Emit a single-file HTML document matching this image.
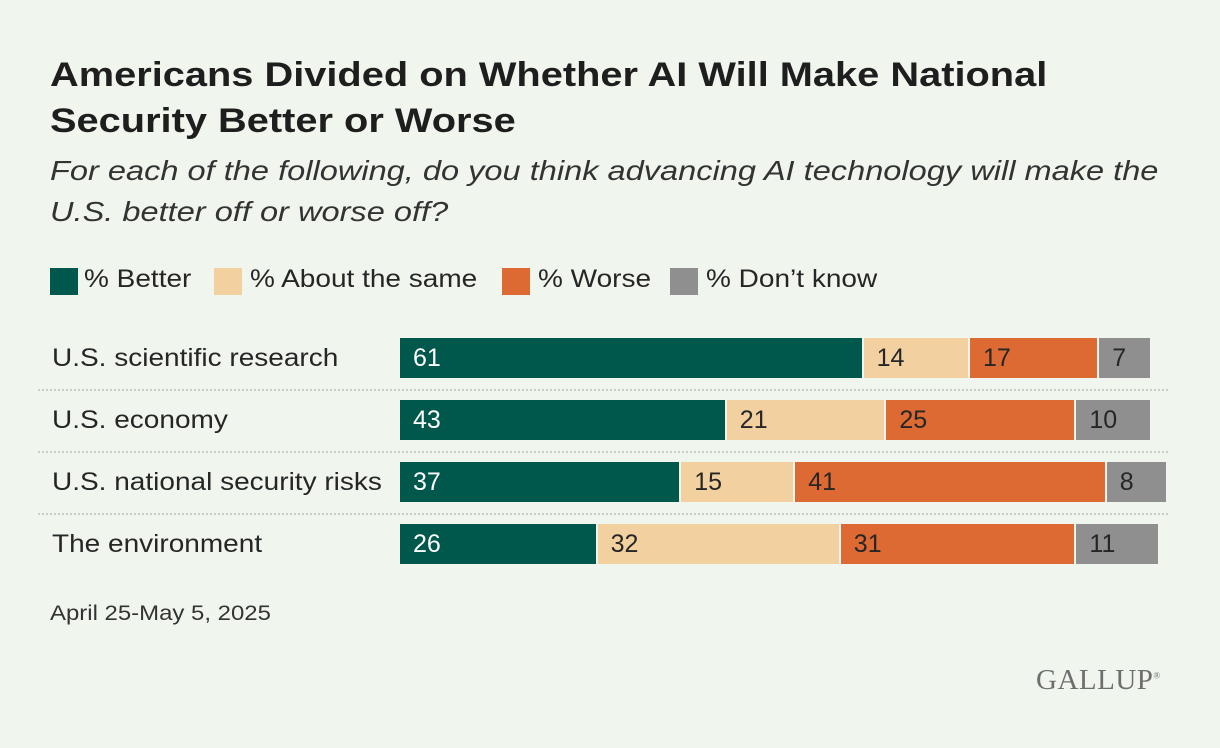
<!DOCTYPE html>
<html><head><meta charset="utf-8"><style>
body{margin:0;background:#f0f6ee;font-family:"Liberation Sans",sans-serif;color:#262626}
#c{position:relative;width:1220px;height:748px;overflow:hidden;background:#f0f6ee}
.t{position:absolute;left:50px;top:52px;font-size:34px;font-weight:bold;line-height:46px;color:#1e1e1e;white-space:nowrap;transform:scaleX(1.17);transform-origin:left top}
.s{position:absolute;left:50px;top:150px;font-size:28px;font-style:italic;line-height:41px;color:#333;white-space:nowrap;transform:scaleX(1.163);transform-origin:left top}
.lg{position:absolute;top:268px;width:28px;height:27px}
.lt{position:absolute;top:265px;font-size:25px;white-space:nowrap;transform:scaleX(1.12);transform-origin:left top}
.rl{position:absolute;left:52px;font-size:25px;line-height:40px;white-space:nowrap;transform:scaleX(1.12);transform-origin:left top}
.seg{position:absolute;height:40px;line-height:40px;font-size:25px;padding-left:13px;box-sizing:border-box;overflow:hidden;white-space:nowrap}
.sep{position:absolute;left:38px;width:1130px;border-top:2px dotted #c9cdc8}
</style></head><body>
<div id="c">
<div class="t">Americans Divided on Whether AI Will Make National<br>Security Better or Worse</div>
<div class="s">For each of the following, do you think advancing AI technology will make the<br>U.S. better off or worse off?</div>
<div class="lg" style="left:50px;background:#00584c"></div>
<div class="lt" style="left:84px">% Better</div>
<div class="lg" style="left:214px;background:#f2d09f"></div>
<div class="lt" style="left:250px">% About the same</div>
<div class="lg" style="left:502px;background:#dd6a33"></div>
<div class="lt" style="left:538px">% Worse</div>
<div class="lg" style="left:670px;background:#8f8f8f"></div>
<div class="lt" style="left:706px">% Don’t know</div>
<div id="bars"></div>
<div style="position:absolute;left:50px;top:602px;font-size:21px;color:#333;white-space:nowrap;transform:scaleX(1.14);transform-origin:left top">April 25-May 5, 2025</div>
<div style="position:absolute;left:1036px;top:664px;font-family:'Liberation Serif',serif;font-size:29px;color:#6e6e6e;letter-spacing:0.5px">GALLUP<sup style="font-size:9px">®</sup></div>
</div>
<script>
const categories=["U.S. scientific research","U.S. economy","U.S. national security risks","The environment"];
const better=[61,43,37,26];
const same=[14,21,15,32];
const worse=[17,25,41,31];
const dontKnow=[7,10,8,11];
const series=[["better",better,"#00584c","#fff"],["same",same,"#f2d09f","#262626"],["worse",worse,"#dd6a33","#262626"],["dont-know",dontKnow,"#8f8f8f","#262626"]];
const X0=400,unit=7.6,Y0=338,step=62;
const x=v=>X0+v*unit;
const root=document.getElementById('bars');
categories.forEach((cat,i)=>{
  const y=Y0+i*step;
  const l=document.createElement('div');l.className='rl';l.style.top=y+'px';l.textContent=cat;
  
  
  root.appendChild(l);
  let acc=0;
  series.forEach(([nm,arr,col,tc])=>{
    const v=arr[i];const d=document.createElement('div');d.className='seg';
    d.style.left=x(acc)+'px';d.style.width=(v*unit-2)+'px';d.style.top=y+'px';
    d.style.background=col;d.style.color=tc;d.textContent=v;
    
    
    root.appendChild(d);acc+=v;
  });
  if(i<categories.length-1){const s=document.createElement('div');s.className='sep';s.style.top=(y+51)+'px';
    
    
    root.appendChild(s);}
});
</script>
</body></html>
